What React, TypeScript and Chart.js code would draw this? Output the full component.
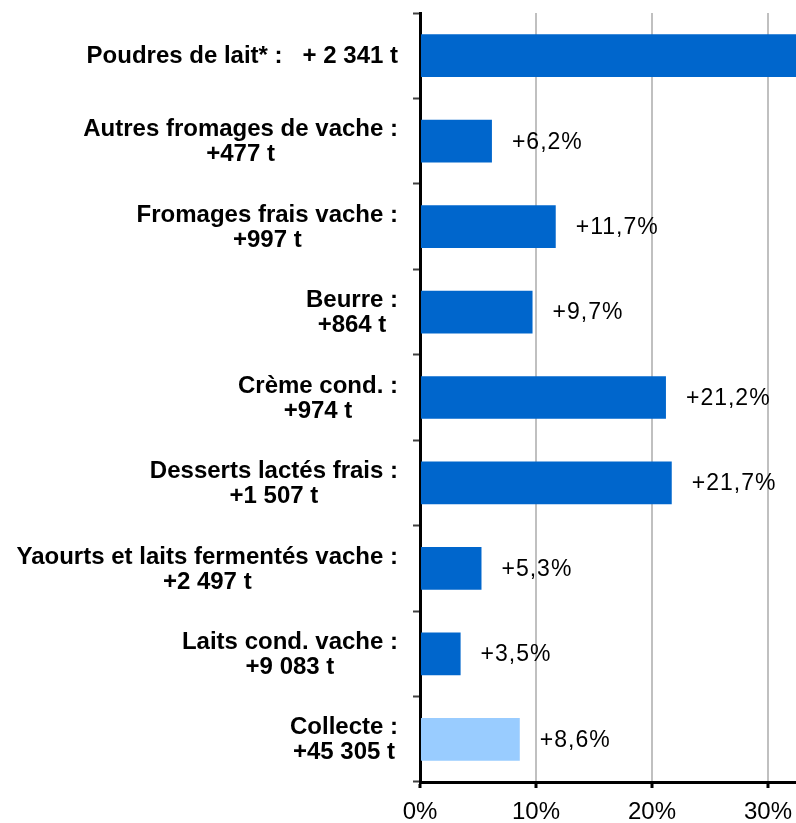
import React, { useEffect, useRef } from "react";
import { Chart, registerables } from "chart.js";

Chart.register(...registerables);

const categoryLines: string[][] = [
  ["Poudres de lait* :   + 2 341 t"],
  ["Autres fromages de vache :", "+477 t"],
  ["Fromages frais vache :", "+997 t"],
  ["Beurre :", "+864 t"],
  ["Crème cond. :", "+974 t"],
  ["Desserts lactés frais :", "+1 507 t"],
  ["Yaourts et laits fermentés vache :", "+2 497 t"],
  ["Laits cond. vache :", "+9 083 t"],
  ["Collecte :", "+45 305 t"],
];

const growthPct: number[] = [40, 6.2, 11.7, 9.7, 21.2, 21.7, 5.3, 3.5, 8.6];
const valueLabels: string[] = ["", "+6,2%", "+11,7%", "+9,7%", "+21,2%", "+21,7%", "+5,3%", "+3,5%", "+8,6%"];
const xTickValues: number[] = [0, 10, 20, 30];
const xMax = 32.41;

const FONT = '"Liberation Sans", Arial, sans-serif';
const DARK_BLUE = "#0066CC";
const LIGHT_BLUE = "#99CCFF";

export default function App() {
  const ref = useRef<HTMLCanvasElement | null>(null);

  useEffect(() => {
    document.body.style.margin = "0";
    const canvas = ref.current;
    if (!canvas) return;

    const labelsPlugin = {
      id: "customLabels",
      afterDatasetsDraw(chart: any) {
        const ctx = chart.ctx;
        const yScale = chart.scales.y;
        const xScale = chart.scales.x;
        ctx.save();
        // category labels
        ctx.font = `bold 24px ${FONT}`;
        ctx.fillStyle = "#000";
        ctx.textBaseline = "middle";
        ctx.textAlign = "center";
        const rightEdge = yScale.right - 22;
        categoryLines.forEach((lines, i) => {
          const y = yScale.getPixelForValue(i);
          const widths = lines.map((l) => ctx.measureText(l).width);
          const maxW = Math.max(...widths);
          const cx = rightEdge - maxW / 2;
          const lh = 25;
          const y0 = y - ((lines.length - 1) * lh) / 2;
          lines.forEach((l, k) => {
            ctx.fillText(l, cx, y0 + k * lh + 1);
          });
        });
        // value labels
        ctx.font = `23px ${FONT}`;
        ctx.textAlign = "left";
        try {
          (ctx as any).letterSpacing = "1px";
        } catch (e) {}
        const meta = chart.getDatasetMeta(0);
        valueLabels.forEach((lbl, i) => {
          if (!lbl) return;
          const bar = meta.data[i];
          const x = xScale.getPixelForValue(growthPct[i]) + 20;
          ctx.fillText(lbl, x, bar.y + 1);
        });
        ctx.restore();
      },
    };

    const chart = new Chart(canvas, {
      type: "bar",
      data: {
        labels: categoryLines.map((l) => l.join(" ")),
        datasets: [
          {
            data: growthPct,
            backgroundColor: growthPct.map((_, i) => (i === growthPct.length - 1 ? LIGHT_BLUE : DARK_BLUE)),
            borderWidth: 0,
            barPercentage: 0.5,
            categoryPercentage: 1,
          },
        ],
      },
      options: {
        indexAxis: "y",
        responsive: false,
        animation: false,
        layout: { padding: { top: 13, right: 0, left: 0, bottom: 0 } },
        plugins: {
          legend: { display: false },
          tooltip: { enabled: false },
        },
        scales: {
          x: {
            type: "linear",
            min: 0,
            max: xMax,
            afterBuildTicks: (scale: any) => {
              scale.ticks = xTickValues.map((v) => ({ value: v }));
            },
            afterFit: (scale: any) => {
              scale.height = 41;
              scale.paddingRight = 0;
              scale.paddingLeft = 0;
            },
            ticks: {
              callback: (v: any) => `${v}%`,
              font: { family: FONT, size: 24 },
              color: "#000",
              padding: 10,
              maxRotation: 0,
              autoSkip: false,
            },
            grid: {
              color: "#c0c0c0",
              lineWidth: 2,
              tickColor: "#000",
              tickLength: 6,
              tickWidth: 3,
            },
            border: { color: "#000", width: 3 },
          },
          y: {
            type: "category",
            afterFit: (scale: any) => {
              scale.width = 420;
              scale.paddingTop = 0;
              scale.paddingBottom = 0;
            },
            ticks: { display: false },
            grid: {
              drawOnChartArea: false,
              offset: true,
              tickColor: "#404040",
              tickLength: 7,
              tickWidth: 2,
            },
            border: { color: "#000", width: 3 },
          },
        },
      },
      plugins: [labelsPlugin],
    } as any);

    return () => chart.destroy();
  }, []);

  return (
    <div style={{ width: 796, height: 823 }}>
      <canvas ref={ref} width={796} height={823} style={{ display: "block" }} />
    </div>
  );
}
